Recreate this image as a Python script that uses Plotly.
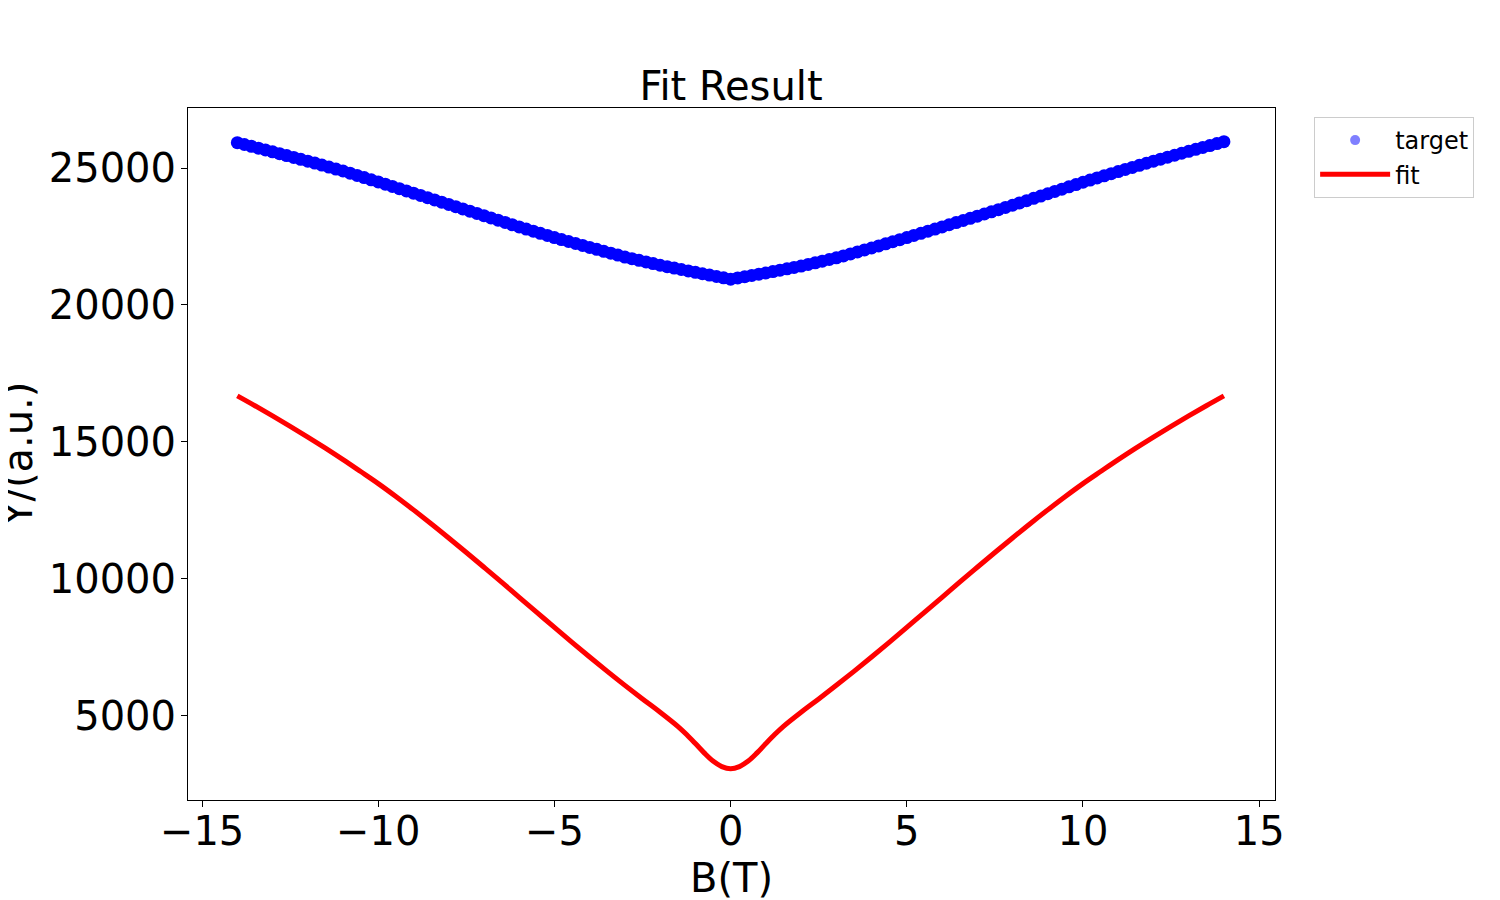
"""
Fit Result: measured target Y(B) against fitted curve.
"""
import numpy as np
import plotly.graph_objects as go

# target data (B grid, 0.2 T step from -14 to 14)
B_TARGET = np.round(np.linspace(-14.0, 14.0, 141), 1)
Y_TARGET = [
    25925, 25858, 25791, 25724, 25657, 25590, 25522, 25454, 25386, 25318,
    25250, 25178, 25106, 25034, 24962, 24890, 24810, 24730, 24650, 24570,
    24490, 24408, 24326, 24244, 24162, 24080, 23998, 23916, 23834, 23752,
    23670, 23588, 23506, 23424, 23342, 23260, 23178, 23096, 23014, 22932,
    22850, 22772, 22694, 22616, 22538, 22460, 22388, 22316, 22244, 22172,
    22100, 22030, 21960, 21890, 21820, 21750, 21690, 21630, 21570, 21510,
    21450, 21398, 21346, 21294, 21242, 21190, 21140, 21090, 21040, 20990,
    20940,
    20986, 21032, 21078, 21124, 21170, 21220, 21270, 21320, 21370, 21420,
    21480, 21540, 21600, 21660, 21720, 21792, 21864, 21936, 22008, 22080,
    22156, 22232, 22308, 22384, 22460, 22538, 22616, 22694, 22772, 22850,
    22928, 23006, 23084, 23162, 23240, 23320, 23400, 23480, 23560, 23640,
    23724, 23808, 23892, 23976, 24060, 24144, 24228, 24312, 24396, 24480,
    24558, 24636, 24714, 24792, 24870, 24946, 25022, 25098, 25174, 25250,
    25322, 25394, 25466, 25538, 25610, 25680, 25750, 25820, 25890, 25960,
]

# fit curve
B_FIT = [
    -14.0, -13.5, -13.0, -12.5, -12.0, -11.5, -11.0, -10.5, -10.0, -9.5,
    -9.0, -8.5, -8.0, -7.5, -7.0, -6.5, -6.0, -5.5, -5.0, -4.5,
    -4.0, -3.5, -3.0, -2.5, -2.0, -1.5, -1.25, -1.0, -0.75, -0.5, -0.25,
    0.0,
    0.25, 0.5, 0.75, 1.0, 1.25, 1.5, 2.0, 2.5, 3.0, 3.5, 4.0,
    4.5, 5.0, 5.5, 6.0, 6.5, 7.0, 7.5, 8.0, 8.5, 9.0,
    9.5, 10.0, 10.5, 11.0, 11.5, 12.0, 12.5, 13.0, 13.5, 14.0,
]
Y_FIT = [
    16680, 16320, 15950, 15570, 15180, 14775, 14355, 13920, 13480, 13010,
    12520, 12015, 11495, 10965, 10425, 9880, 9330, 8780, 8230, 7685,
    7150, 6625, 6115, 5620, 5135, 4620, 4320, 3990, 3650, 3350, 3150,
    3070,
    3150, 3350, 3650, 3990, 4320, 4620, 5135, 5620, 6115, 6625, 7150,
    7685, 8230, 8780, 9330, 9880, 10425, 10965, 11495, 12015, 12520,
    13010, 13480, 13920, 14355, 14775, 15180, 15570, 15950, 16320, 16680,
]

X_TICKS = [-15, -10, -5, 0, 5, 10, 15]
Y_TICKS = [5000, 10000, 15000, 20000, 25000]

FONT = "DejaVu Sans"

fig = go.Figure()

# dense markers overlap into a solid band; legend entry keeps the alpha look
fig.add_trace(go.Scatter(
    x=B_TARGET, y=Y_TARGET,
    mode="markers",
    marker=dict(color="#0000ff", size=13, line=dict(width=0)),
    showlegend=False,
))
fig.add_trace(go.Scatter(
    x=[None], y=[None],
    mode="markers",
    name="target",
    marker=dict(color="rgba(0,0,255,0.5)", size=10, line=dict(width=0)),
))
fig.add_trace(go.Scatter(
    x=B_FIT, y=Y_FIT,
    mode="lines",
    name="fit",
    line=dict(color="#ff0000", width=5, shape="spline", smoothing=1.0),
))

axis_common = dict(
    showgrid=False, zeroline=False,
    showline=True, linecolor="black", linewidth=1, mirror=True,
    ticks="outside", ticklen=6, tickwidth=1, tickcolor="black",
    tickfont=dict(family=FONT, size=40, color="black"),
)

fig.update_layout(
    width=1500, height=900,
    title=dict(
        text="Fit Result",
        font=dict(family=FONT, size=40, color="black"),
        x=(723 / 1500), xanchor="center",
        y=(1 - 78 / 900), yanchor="middle", yref="container",
    ),
    xaxis=dict(
        axis_common,
        range=[-15.4, 15.45],
        tickvals=X_TICKS,
        ticklabelstandoff=-10,
        title=dict(text="B(T)", font=dict(family=FONT, size=40, color="black"), standoff=10),
    ),
    yaxis=dict(
        axis_common,
        range=[1930, 27190],
        tickvals=Y_TICKS,
        tickformat="d",
        ticklabelstandoff=-3,
    ),
    legend=dict(
        x=1.036, y=0.987, xanchor="left", yanchor="top",
        font=dict(family=FONT, size=24, color="black"),
        bordercolor="#cccccc", borderwidth=1, bgcolor="white",
        itemsizing="trace", itemwidth=70,
    ),
    plot_bgcolor="white", paper_bgcolor="white",
    margin=dict(l=180, r=233, t=100, b=108, autoexpand=False),
)

# y label sits right at the left edge, as in the source figure
fig.add_annotation(
    text="Y/(a.u.)", textangle=-90,
    xref="paper", yref="paper", x=-0.157, y=0.499,
    xanchor="center", yanchor="middle", showarrow=False,
    font=dict(family=FONT, size=40, color="black"),
)

fig.write_html("out.html")
